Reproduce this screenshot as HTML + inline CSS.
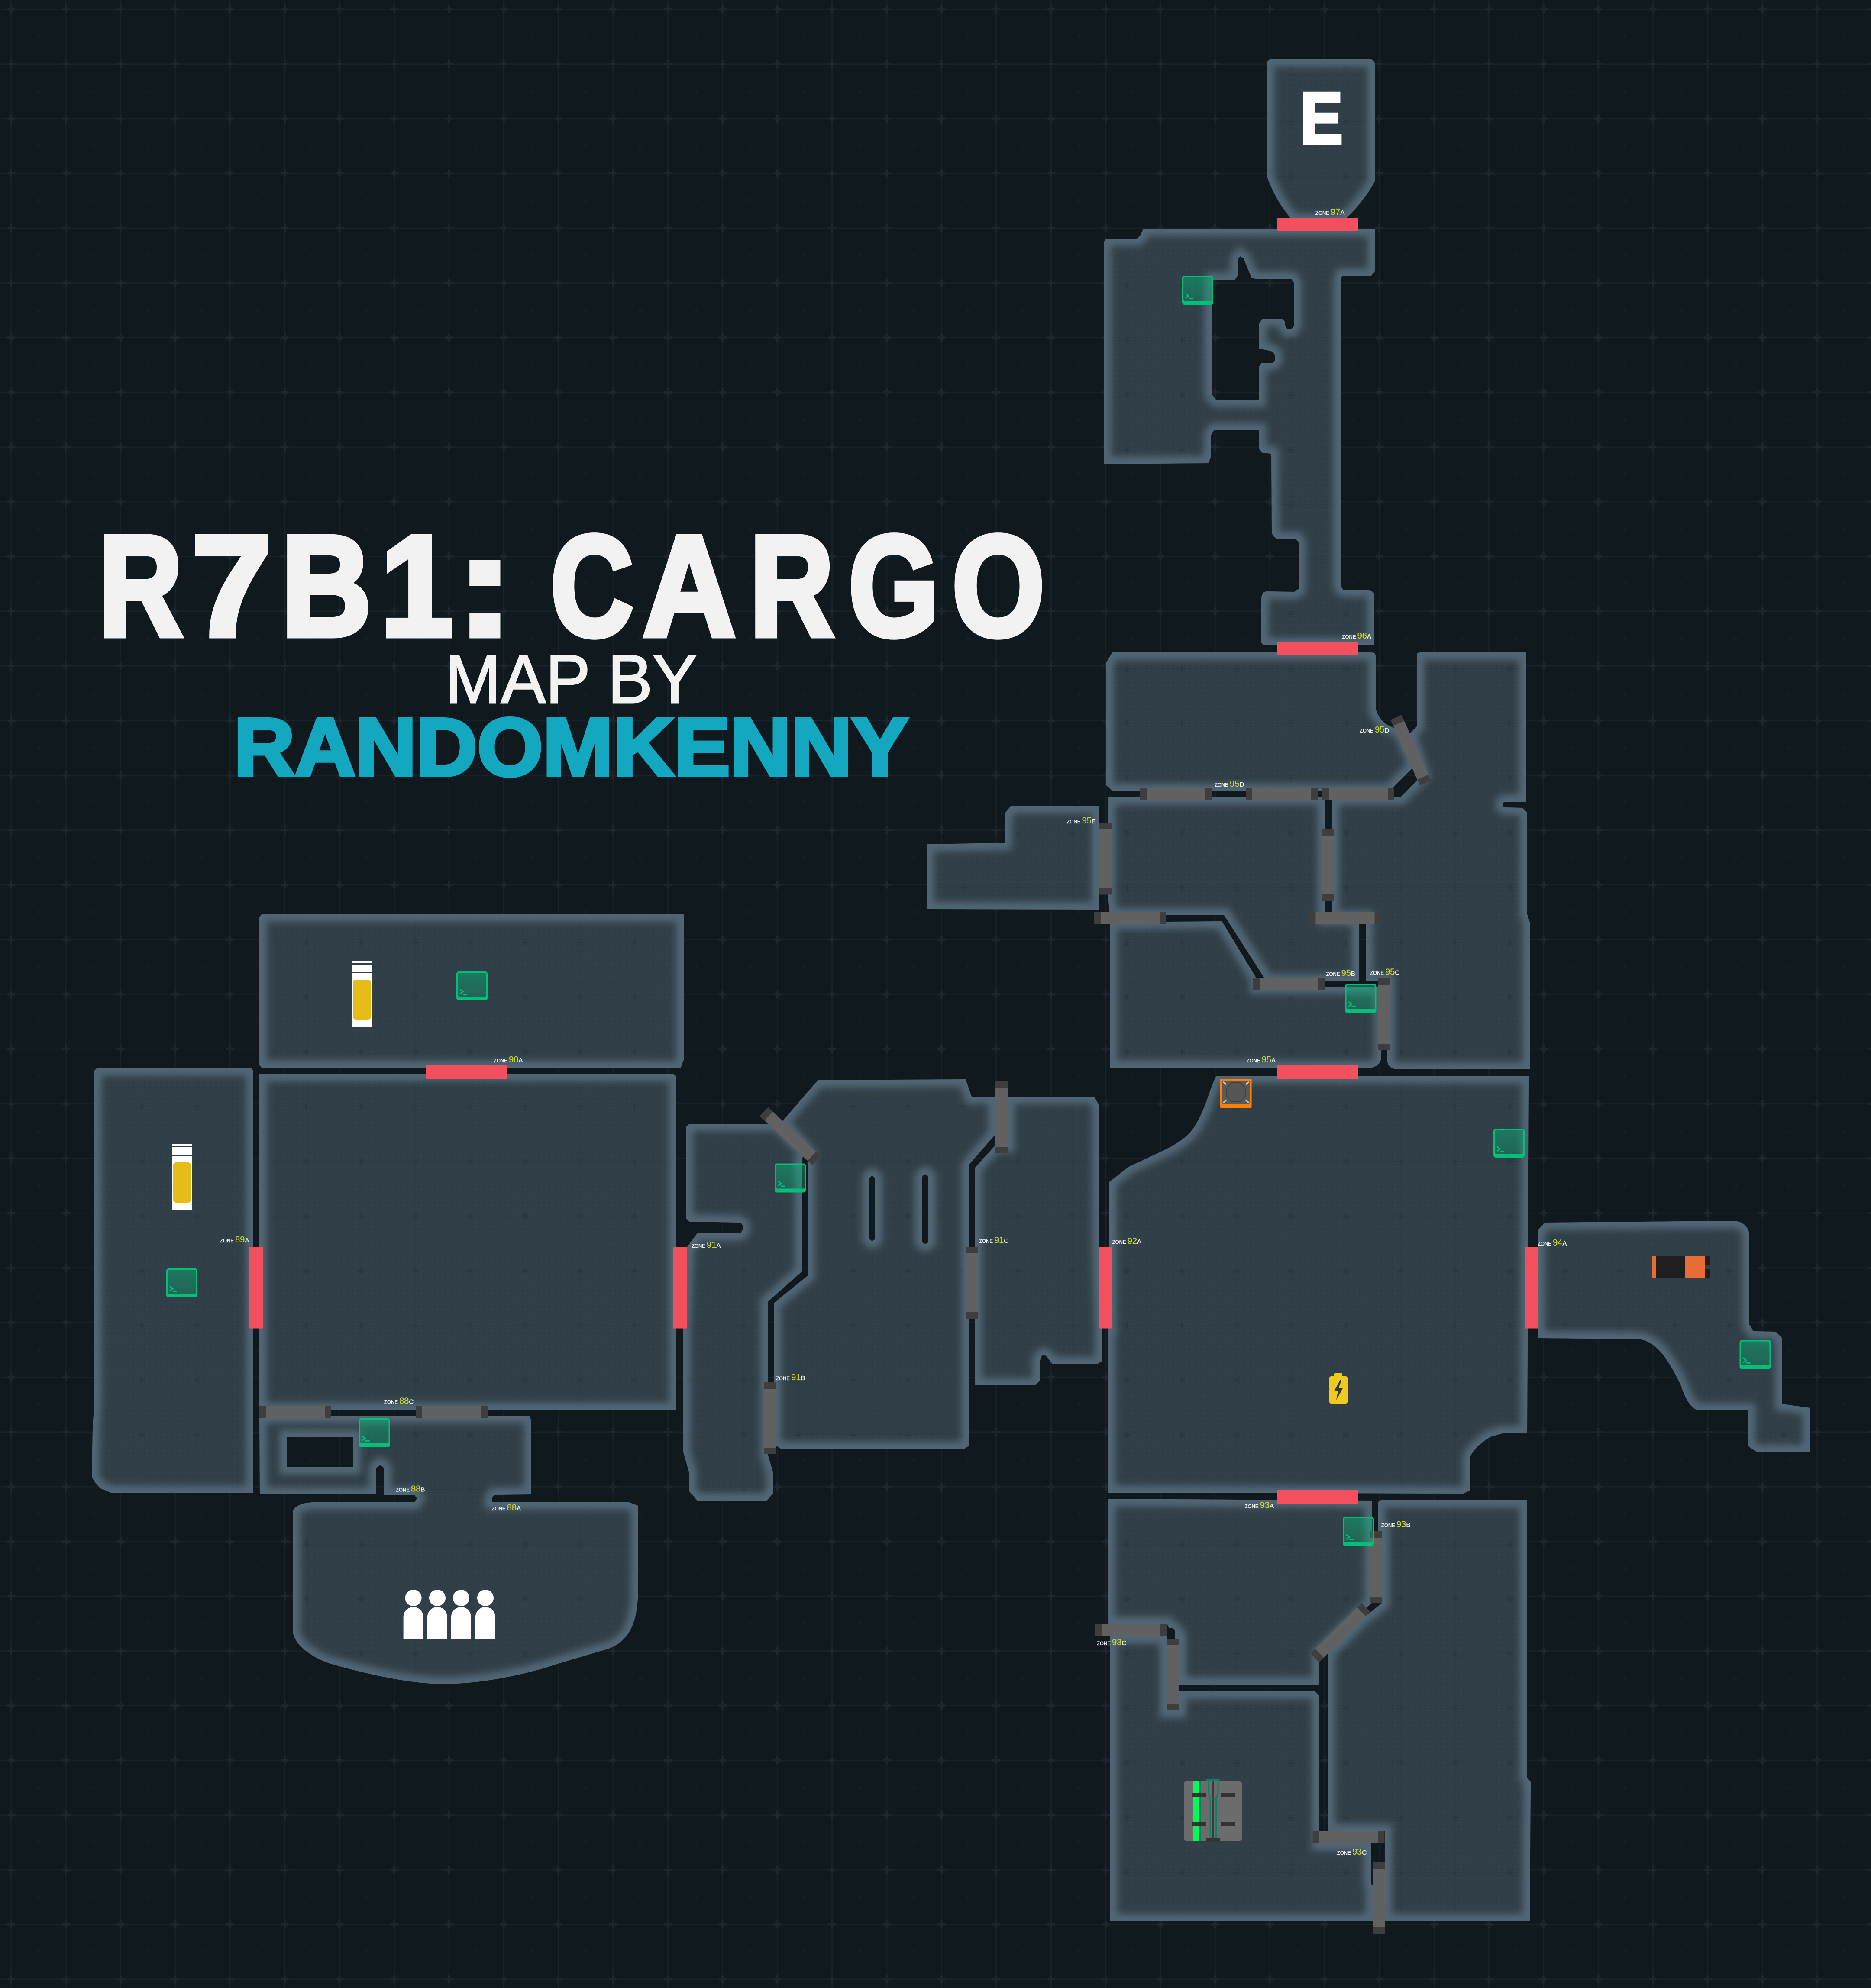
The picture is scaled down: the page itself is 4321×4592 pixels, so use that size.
<!DOCTYPE html>
<html><head><meta charset="utf-8"><title>R7B1: CARGO</title>
<style>
html,body{margin:0;padding:0;background:#10191d}
svg{display:block}
.z{font-family:"Liberation Sans",sans-serif;font-size:11.5px;fill:#f4f4f4;stroke:#f4f4f4;stroke-width:.35px}
.z .n{font-size:20px;fill:#c5d62b;stroke:#c5d62b}
.z .l{font-size:15px}
.t{font-family:"Liberation Sans",sans-serif;font-weight:700;font-size:330px;fill:#f2f2f2;stroke:#f2f2f2;stroke-width:14px;stroke-linejoin:miter}
</style></head><body>
<svg xmlns="http://www.w3.org/2000/svg" width="4321" height="4592" viewBox="0 0 4321 4592">
<defs>
<pattern id="bg" patternUnits="userSpaceOnUse" x="-37.6" y="-41.8" width="126.4" height="126.4">
<path d="M0 63.2H126.4M63.2 0V126.4" stroke="#182227" stroke-width="2.5" fill="none"/>
<path d="M54.2 63.2H72.2M63.2 54.2V72.2" stroke="#1c262c" stroke-width="5" fill="none"/>
<g fill="none" stroke="#172126" stroke-width="1.2"><rect x="-3" y="-3" width="6" height="6"/><rect x="123.4" y="-3" width="6" height="6"/><rect x="-3" y="123.4" width="6" height="6"/><rect x="123.4" y="123.4" width="6" height="6"/></g>
</pattern>
<pattern id="rg" patternUnits="userSpaceOnUse" x="11.6" y="-35.2" width="126.4" height="126.4">
<path d="M0 63.2H126.4M63.2 0V126.4" stroke="#2d3b43" stroke-width="1.5" fill="none"/>
<path d="M56.2 63.2H70.2M63.2 56.2V70.2" stroke="#2a3840" stroke-width="3.5" fill="none"/>
</pattern>
<pattern id="dots" patternUnits="userSpaceOnUse" x="74.8" y="28" width="12.64" height="12.64">
<circle cx="6.3" cy="6.3" r="1.3" fill="#28363d"/>
</pattern>
<filter id="b" x="0" y="0" width="4321" height="4592" filterUnits="userSpaceOnUse"><feGaussianBlur stdDeviation="8"/></filter>
<linearGradient id="tg" x1="0" y1="0" x2="0" y2="1"><stop offset="0" stop-color="#00c07a" stop-opacity=".45"/><stop offset="1" stop-color="#00c07a" stop-opacity=".28"/></linearGradient>
<path id="rooms" fill-rule="evenodd" clip-rule="evenodd" d="
M2935,137 L3165,137 Q3175,137 3175,150 L3175,419 Q3150,465 3110,503 L3104,510 L2985,510 L2975,497 Q2945,460 2926,408 L2926,150 Q2926,137 2935,137 Z
M2646,528 L3170,528 L3175,530 L3175,627 L3167,637 L3100,637 L3096,644 L3096,1354 L3102,1362 L3163,1362 L3174,1370 L3174,1490 L2918,1490 L2913,1485 L2913,1384 Q2913,1366 2926,1366 L2989,1367 L2999,1360 L2999,1253 L2993,1245 L2951,1245 Q2937,1240 2937,1226 L2936,1048 L2915,1046 L2907.5,1036 L2907.5,994 L2803.5,994 L2797,1005 L2797,1056 L2790,1070 L2549,1072 L2549,560 L2553.5,551 L2627,551 L2634,543 L2640,529 Z
M2801,647 L2852,646 L2858,637 L2858,600 L2864,592 L2872,597 L2890,641 L2899,644 L2982,644 L2989,654 L2989,751 L2982,761 L2973,761 L2968,751 L2968,744 L2962,736 L2915,736 L2908,748 L2908,805 L2935,811 Q2945,815 2945,827 Q2945,838 2935,839 L2913,839 L2907,848 L2907,923 L2808,923 L2798,910 L2798,701 Z
M2555,1530 L2569,1507 L3167,1507 Q3177,1507 3177,1516 L3177,1635 Q3180,1655 3200,1672 L3235,1690 L3268,1768 L3224,1812 L3210,1828 L2569,1827 L2555,1814 Z
M3272,1512 Q3272,1507 3281,1507 L3525,1507 L3525,1852 L3478,1852 Q3470,1852 3470,1859 Q3470,1865 3478,1865 L3516,1866 L3527,1877 L3527,2112 L3533,2130 L3533,2470 L3227,2470 Q3204,2468 3204,2450 L3204,2267 L3154,2267 L3154,2121 L3076,2121 L3076,1842 L3234,1842 L3285,1790 L3255,1695 L3272,1678 Z
M2559,1842 L3059.5,1842 L3059.5,2120 L3139,2120 L3139,2267 L2925,2267 L2827,2114 L2563,2114 L2559,2070 Z
M2563,2130 L2822,2128 L2903,2262 L2903,2279 L3190,2279 L3190,2440 Q3190,2462 3165,2467 L2563,2466 Z
M2140,1950 L2320,1947 L2322,1877 L2334,1862 L2538,1861 L2538,2101 L2140,2100 Z
M604,2112 L1579,2112 L1579,2448 L1572,2467 L604,2466 L599,2460 L599,2118 Z
M224,2467 L580,2467 L585,2473 L585,3449 L256,3448 L232,3438 Q214,3420 212,3409 L214,3300 L218,3234 L218,2473 Z
M599,2481 L1556,2481 L1562,2486 L1562,3257 L599,3257 Z
M1584,2603 L1592,2596 L1795,2596 L1860,2660 L1852,2677 L1852,2937 L1773,3007 L1773,3359 L1786,3403 L1786,3449 L1771,3466 L1610,3466 L1592,3445 L1592,3403 L1578,3354 L1578,3068 L1587,2880 L1610,2849 L1709,2849 Q1716,2842 1716,2836 Q1716,2828 1709,2824 L1592,2822 L1584,2814 Z
M1889,2495 L2230,2493 L2244,2533 L2299,2533 L2299,2620 L2237,2691 L2237,3340 L2226,3347 L1804,3347 L1787,3335 L1787,3010 L1865,2947 L1865,2680 L1868,2665 L1805,2592 Z
M2011,2718 Q2014,2714 2017,2718 L2021,2722 L2021,2862 Q2014,2870 2008,2862 L2008,2722 Z
M2133,2714 Q2137,2711 2141,2714 L2144,2718 L2144,2869 Q2137,2877 2130,2869 L2130,2718 Z
M2327,2533 L2527,2533 L2539,2554 L2539,2880 L2545,3068 L2545,3144 L2534,3151 L2431,3151 L2417,3133 Q2410,3128 2406,3132 L2401,3144 L2401,3189 L2391,3200 L2251,3200 L2251,2698 L2299,2645 L2327,2645 Z
M2809,2485 L3531,2486 L3527,3311 L3470,3311 L3442,3319 Q3400,3345 3394,3370 L3394,3443 L3380,3450 L2558,3448 L2558,3068 L2562,3068 L2562,2730 L2571,2723 L2607,2695 L2650,2675 C2690,2655 2735,2640 2760,2600 C2785,2560 2795,2510 2809,2485 Z
M3568,2824 L3551,2842 L3551,3091 L3783,3093 C3825,3098 3850,3135 3882,3200 C3890,3225 3905,3258 3926,3258 L4037,3258 L4037,3340 L4057,3354 L4180,3354 L4180,3252 L4116,3243 L4116,3091 L4101,3076 L4050,3075 L4040,3060 L4040,2850 Q4035,2822 4003,2820 Z
M2558,3462 L3168,3466 L3168,3703 L3150,3718 L3046,3820 L3046,3891 L2723,3891 L2723,3785 L2714,3785 L2714,3770 Q2714,3760 2700,3760 L2695,3751 L2558,3751 Z
M2563,3779 L2695,3779 L2695,3951 L2723,3951 L2723,3907 L3037,3907 L3046,3916 L3046,4258 L3166,4258 L3166,4350 L3170,4356 L3170,4438 L2563,4438 Z
M3182,3470 L3189,3465 L3526,3465 L3526,4105 L3535,4116 L3533,4438 L3198,4438 L3198,4230 L3066,4230 L3066,3818 L3150,3735 L3163,3726 L3191,3703 L3191,3537 L3182,3537 Z
M599,3270 L1223,3270 L1227,3282 L1227,3452 L1141,3453 L1136,3461 L1136,3470 L1452,3470 L1474,3478 L1473,3691 C1470,3745 1455,3790 1406,3808 L1289,3843 C1215,3868 1110,3890 1024,3890 C950,3890 850,3868 763,3843 C730,3832 680,3805 676,3767 L676,3490 Q685,3472 722,3470 L957,3470 L963,3461 L957,3453 L887,3453 L887,3392 Q878,3378 869,3392 L869,3452 L600,3452 Z
M662,3320 L816,3320 L816,3389 L662,3389 Z"/>
<clipPath id="rc"><use href="#rooms"/></clipPath>
<g id="dh"><rect x="-83" y="-14" width="166" height="28" fill="#616161"/><rect x="-83" y="-14" width="15" height="28" fill="#3e3e3e"/><rect x="68" y="-14" width="15" height="28" fill="#3e3e3e"/></g>
<g id="term">
<path fill-rule="evenodd" fill="#00c07a" d="M6 0H66Q72 0 72 6V61Q72 67 66 67H6Q0 67 0 61V6Q0 0 6 0ZM7 3Q3 3 3 7V54Q3 58 7 58H65Q69 58 69 54V7Q69 3 65 3Z"/>
<rect x="3" y="3" width="66" height="55" rx="4" fill="url(#tg)"/>
<path d="M8 41L15 46.5L8 52M15 52.5H25" stroke="#00c07a" stroke-width="3" fill="none"/>
</g>
</defs>
<rect width="4321" height="4592" fill="#10191d"/>
<rect width="4321" height="4592" fill="url(#bg)"/>
<use href="#rooms" fill="#314048"/>
<use href="#rooms" fill="url(#rg)"/>
<use href="#rooms" fill="url(#dots)"/>
<g clip-path="url(#rc)"><use href="#rooms" fill="none" stroke="#516674" stroke-width="34" filter="url(#b)"/></g>

<!-- capsules -->
<g fill="#fff"><rect x="812" y="2219" width="47" height="5"/><rect x="812" y="2228" width="47" height="17"/><rect x="812" y="2248" width="47" height="124"/></g>
<rect x="815" y="2263" width="42" height="92" rx="7" fill="#e6bd17"/>
<g fill="#fff"><rect x="397" y="2642" width="47" height="6"/><rect x="397" y="2650" width="47" height="18"/><rect x="397" y="2670" width="47" height="125"/></g>
<rect x="400" y="2685" width="41" height="93" rx="7" fill="#e6bd17"/>
<!-- people -->
<g fill="#fff">
<ellipse cx="954.6" cy="3691" rx="19" ry="19"/><ellipse cx="1010" cy="3691" rx="19" ry="19"/><ellipse cx="1065" cy="3691" rx="19" ry="19"/><ellipse cx="1121" cy="3691" rx="19" ry="19"/>
<path d="M931.6 3785V3735a23 23 0 0 1 46 0V3785Z"/><path d="M987 3785V3735a23 23 0 0 1 46 0V3785Z"/><path d="M1042 3785V3735a23 23 0 0 1 46 0V3785Z"/><path d="M1098 3785V3735a23 23 0 0 1 46 0V3785Z"/>
</g>
<!-- battery orange -->
<rect x="3815" y="2902" width="10" height="49" fill="#e86c33"/><rect x="3825" y="2902" width="66" height="49" fill="#1f1f1f"/><rect x="3891" y="2902" width="47" height="49" fill="#e86c33"/><rect x="3938" y="2902" width="11" height="19" fill="#1f1f1f"/><rect x="3938" y="2931" width="11" height="20" fill="#1f1f1f"/>
<!-- yellow battery -->
<rect x="3081" y="3172" width="19" height="7" rx="2" fill="#f0c91e"/><rect x="3069" y="3178" width="44" height="65" rx="8" fill="#f0c91e"/>
<path d="M3095 3188L3081 3213H3090L3086 3234L3102 3205H3092L3098 3188Z" fill="#2f3a36"/>
<!-- bot -->
<rect x="2818" y="2492" width="72.6" height="67" rx="2" fill="#ff8000"/><rect x="2822" y="2496" width="64.6" height="53" rx="3" fill="#5a5a5a"/>
<path d="M2844 2501H2865L2877 2515V2531L2865 2545H2844L2832 2531V2515Z" fill="#565656" stroke="#414141" stroke-width="2"/>
<path d="M2825 2499L2832 2505M2884 2499L2877 2505M2825 2547L2832 2541M2884 2547L2877 2541" stroke="#cfcfcf" stroke-width="3"/>
<!-- generator -->
<rect x="2734" y="4115" width="134" height="137" rx="5" fill="#6c6c6c"/>
<rect x="2755" y="4115" width="13" height="137" fill="#0af55a"/><rect x="2770" y="4115" width="3.6" height="137" fill="#0b7f68"/>
<rect x="2799" y="4115" width="4" height="135" fill="#3b3b3b"/>
<path d="M2791.5 4115V4144L2795 4152V4250M2813 4115V4144L2808.5 4152V4250M2795 4153Q2802 4156 2808.5 4153" fill="none" stroke="#0b7f68" stroke-width="3"/>
<rect x="2785.5" y="4109" width="31" height="6" fill="#0b7f68"/><rect x="2786" y="4246" width="31" height="9" fill="#333"/>
<g fill="#333"><rect x="2753" y="4142" width="32" height="9"/><rect x="2820" y="4142" width="32" height="9"/><rect x="2753" y="4209" width="32" height="9"/><rect x="2820" y="4209" width="32" height="9"/></g>

<!-- doors -->
<use href="#dh" transform="translate(2716,1835)"/><use href="#dh" transform="translate(2960,1835)"/><use href="#dh" transform="translate(3137,1835)"/>
<use href="#dh" transform="translate(2610,2121)"/><use href="#dh" transform="translate(3106.5,2121)"/><use href="#dh" transform="translate(2977,2273)"/>
<use href="#dh" transform="translate(682,3262)"/><use href="#dh" transform="translate(1043,3262)"/>
<use href="#dh" transform="translate(2612,3765)"/><use href="#dh" transform="translate(3114.5,4244)"/>
<use href="#dh" transform="translate(2553,1983.5) rotate(90)"/><use href="#dh" transform="translate(3066,1998) rotate(90)"/><use href="#dh" transform="translate(3197,2343) rotate(90)"/>
<use href="#dh" transform="translate(2313,2581) rotate(90)"/><use href="#dh" transform="translate(2244,2963) rotate(90)"/><use href="#dh" transform="translate(1779,3276) rotate(90)"/>
<use href="#dh" transform="translate(3177,3620) rotate(90)"/><use href="#dh" transform="translate(2709,3868) rotate(90)"/><use href="#dh" transform="translate(3184,4384) rotate(90)"/>
<use href="#dh" transform="translate(3258,1733) rotate(65.9)"/><use href="#dh" transform="translate(1825,2624.5) rotate(43)"/><use href="#dh" transform="translate(3095.5,3771) rotate(-44.6)"/>

<!-- security doors -->
<g fill="#f2505e">
<rect x="2949" y="503" width="188" height="31"/><rect x="2949" y="1483" width="188" height="31"/><rect x="2949" y="2460.5" width="188" height="31.5"/><rect x="2949" y="3442" width="188" height="31.5"/><rect x="983" y="2460" width="188" height="32"/>
<rect x="575" y="2880.5" width="32" height="188"/><rect x="1555" y="2880.5" width="32" height="188"/><rect x="2537" y="2880.5" width="32" height="188"/><rect x="3522" y="2880.5" width="31" height="188"/>
</g>

<!-- terminals -->
<use href="#term" x="2730" y="637"/><use href="#term" x="3106.5" y="2273"/><use href="#term" x="1054" y="2244"/><use href="#term" x="384" y="2930"/><use href="#term" x="828.5" y="3276"/><use href="#term" x="1789" y="2687.5"/><use href="#term" x="3449" y="2607"/><use href="#term" x="4017.5" y="3095.5"/><use href="#term" x="3101" y="3504"/>

<!-- labels -->
<text class="z" x="3038" y="496">ZONE <tspan class="n">97</tspan><tspan class="l">A</tspan></text>
<text class="z" x="3099.5" y="1475">ZONE <tspan class="n">96</tspan><tspan class="l">A</tspan></text>
<text class="z" x="3140" y="1692">ZONE <tspan class="n">95</tspan><tspan class="l">D</tspan></text>
<text class="z" x="2805" y="1817">ZONE <tspan class="n">95</tspan><tspan class="l">D</tspan></text>
<text class="z" x="2463.5" y="1902">ZONE <tspan class="n">95</tspan><tspan class="l">E</tspan></text>
<text class="z" x="3062.5" y="2254">ZONE <tspan class="n">95</tspan><tspan class="l">B</tspan></text>
<text class="z" x="3164" y="2251.7">ZONE <tspan class="n">95</tspan><tspan class="l">C</tspan></text>
<text class="z" x="2878.6" y="2454">ZONE <tspan class="n">95</tspan><tspan class="l">A</tspan></text>
<text class="z" x="1140" y="2454">ZONE <tspan class="n">90</tspan><tspan class="l">A</tspan></text>
<text class="z" x="508" y="2870">ZONE <tspan class="n">89</tspan><tspan class="l">A</tspan></text>
<text class="z" x="1597" y="2882">ZONE <tspan class="n">91</tspan><tspan class="l">A</tspan></text>
<text class="z" x="2261" y="2871">ZONE <tspan class="n">91</tspan><tspan class="l">C</tspan></text>
<text class="z" x="2568.6" y="2873">ZONE <tspan class="n">92</tspan><tspan class="l">A</tspan></text>
<text class="z" x="3551" y="2877">ZONE <tspan class="n">94</tspan><tspan class="l">A</tspan></text>
<text class="z" x="1792" y="3188">ZONE <tspan class="n">91</tspan><tspan class="l">B</tspan></text>
<text class="z" x="887" y="3242.4">ZONE <tspan class="n">88</tspan><tspan class="l">C</tspan></text>
<text class="z" x="914" y="3445.5">ZONE <tspan class="n">88</tspan><tspan class="l">B</tspan></text>
<text class="z" x="1135.7" y="3489">ZONE <tspan class="n">88</tspan><tspan class="l">A</tspan></text>
<text class="z" x="2874.6" y="3483.5">ZONE <tspan class="n">93</tspan><tspan class="l">A</tspan></text>
<text class="z" x="3190" y="3527.7">ZONE <tspan class="n">93</tspan><tspan class="l">B</tspan></text>
<text class="z" x="2533" y="3800">ZONE <tspan class="n">93</tspan><tspan class="l">C</tspan></text>
<text class="z" x="3087.8" y="4284">ZONE <tspan class="n">93</tspan><tspan class="l">C</tspan></text>

<!-- big E -->
<text transform="translate(3003,331.5) scale(.87,1)" font-family="Liberation Sans" font-weight="700" font-size="169" fill="#fff" stroke="#fff" stroke-width="7">E</text>

<!-- title -->
<g class="title">
<text class="t" transform="translate(228,1467.5) scale(.81,1)">R</text>
<text class="t" transform="translate(443,1467.5)">7</text>
<text class="t" transform="translate(650,1467.5) scale(.87,1)">B</text>
<text class="t" transform="translate(879,1467.5) scale(.915,1)">1</text>
<text class="t" transform="translate(1055,1467.5) scale(1.18,1)">:</text>
<text class="t" transform="translate(1271.6,1467.5) scale(.8,1)">C</text>
<text class="t" transform="translate(1485,1467.5) scale(.895,1)">A</text>
<text class="t" transform="translate(1732,1467.5) scale(.81,1)">R</text>
<text class="t" transform="translate(1960,1467.5) scale(.81,1)">G</text>
<text class="t" transform="translate(2199,1467.5) scale(.83,1)">O</text>
</g>
<text x="1028" y="1623" font-family="Liberation Sans" font-size="158" fill="#f2f2f2" stroke="#f2f2f2" stroke-width="3" textLength="582" lengthAdjust="spacingAndGlyphs">MAP BY</text>
<text x="540" y="1791" font-family="Liberation Sans" font-weight="700" font-size="189" fill="#14a8c0" stroke="#14a8c0" stroke-width="8" textLength="1557" lengthAdjust="spacingAndGlyphs">RANDOMKENNY</text>
</svg>
</body></html>
